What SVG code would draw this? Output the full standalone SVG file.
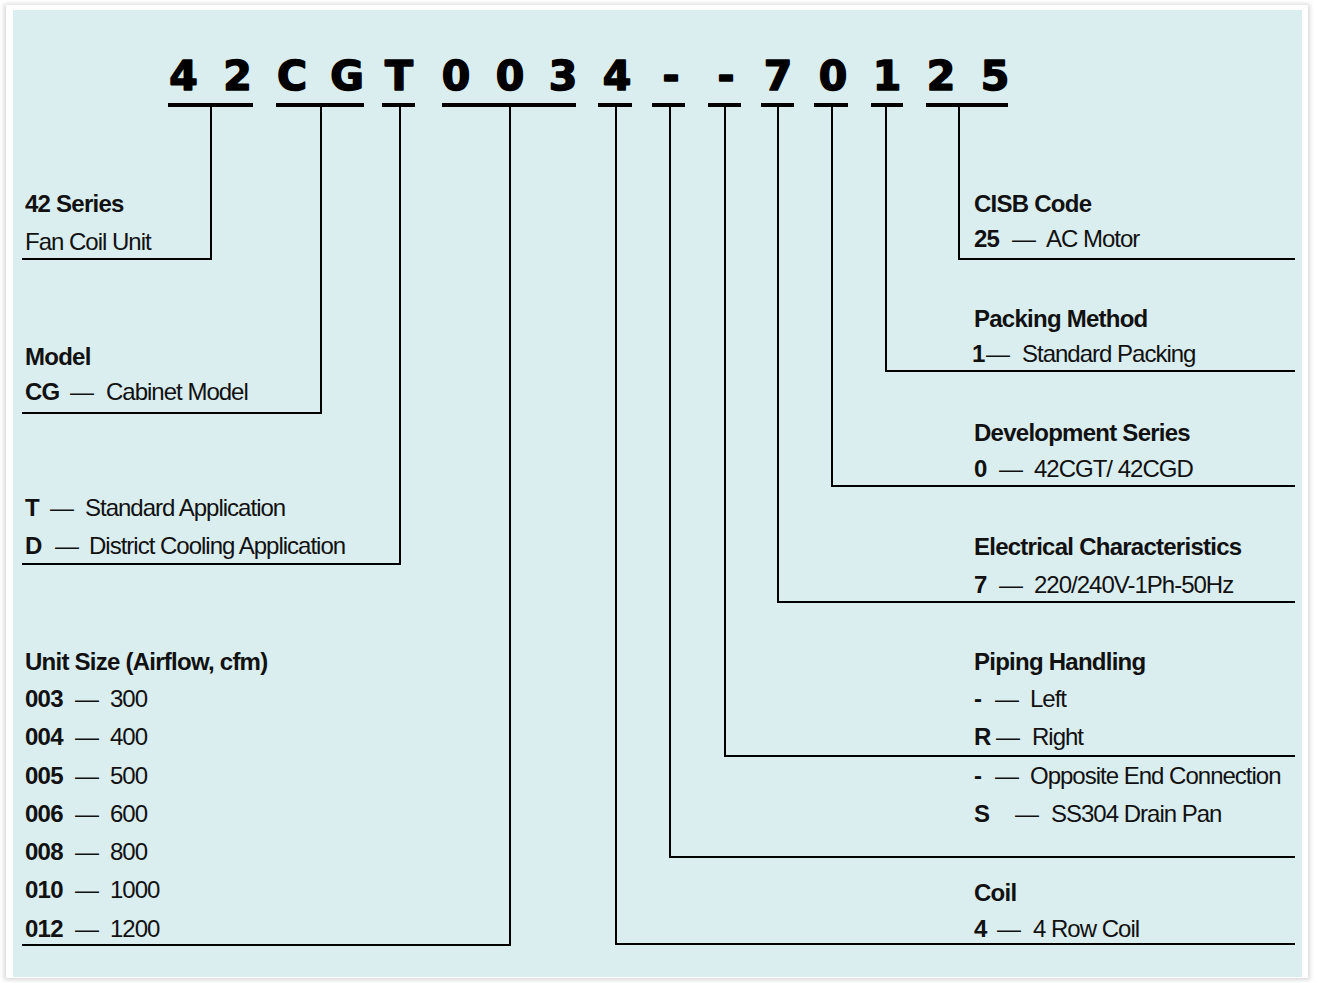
<svg xmlns="http://www.w3.org/2000/svg" width="1317" height="983" viewBox="0 0 1317 983">
<defs>
<filter id="sh" x="-2%" y="-2%" width="104%" height="104%"><feGaussianBlur stdDeviation="2"/></filter>
</defs>
<style>
.code{font-family:"DejaVu Sans",sans-serif;font-weight:bold;font-size:41px;fill:#000;stroke:#000;stroke-width:1.6;stroke-linejoin:round;text-anchor:middle}
.b{font-family:"Liberation Sans",Arial,sans-serif;font-weight:bold;font-size:24px;fill:#111;letter-spacing:-0.75px}
.r{font-family:"Liberation Sans",Arial,sans-serif;font-size:24px;fill:#111;letter-spacing:-1px}
.ul{stroke:#000;stroke-width:4;fill:none}
.cn{stroke:#000;stroke-width:2;fill:none}
</style>
<rect x="0" y="0" width="1317" height="983" fill="#ffffff"/>
<rect x="4" y="4" width="1306" height="976" fill="#d8d8d8" filter="url(#sh)"/>
<rect x="6" y="5" width="1302" height="973" fill="#ffffff"/>
<rect x="13" y="10" width="1289" height="967" fill="#daedef"/>

<g id="code">
<text class="code" x="183.5" y="90">4</text>
<text class="code" x="237.5" y="90">2</text>
<text class="code" x="292" y="90">C</text>
<text class="code" x="347" y="90">G</text>
<text class="code" x="399" y="90">T</text>
<text class="code" x="456" y="90">0</text>
<text class="code" x="510" y="90">0</text>
<text class="code" x="563" y="90">3</text>
<text class="code" x="617" y="90">4</text>
<text class="code" x="671" y="90">-</text>
<text class="code" x="726" y="90">-</text>
<text class="code" x="778" y="90">7</text>
<text class="code" x="833" y="90">0</text>
<text class="code" x="887" y="90">1</text>
<text class="code" x="941" y="90">2</text>
<text class="code" x="995" y="90">5</text>
<g class="ul">
<line x1="168" y1="105" x2="253" y2="105"/>
<line x1="276" y1="105" x2="364" y2="105"/>
<line x1="382" y1="105" x2="415" y2="105"/>
<line x1="442" y1="105" x2="576" y2="105"/>
<line x1="598" y1="105" x2="632" y2="105"/>
<line x1="652" y1="105" x2="685" y2="105"/>
<line x1="708" y1="105" x2="741" y2="105"/>
<line x1="761" y1="105" x2="794" y2="105"/>
<line x1="814" y1="105" x2="848" y2="105"/>
<line x1="871" y1="105" x2="903" y2="105"/>
<line x1="926" y1="105" x2="1008" y2="105"/>
</g>
</g>

<g id="connectors" class="cn">
<polyline points="211,107 211,259 22,259"/>
<polyline points="321,107 321,413 22,413"/>
<polyline points="400,107 400,564 22,564"/>
<polyline points="510,107 510,945 22,945"/>
<polyline points="959,107 959,259 1295,259"/>
<polyline points="886,107 886,371 1295,371"/>
<polyline points="832,107 832,486 1295,486"/>
<polyline points="778,107 778,602 1295,602"/>
<polyline points="725,107 725,756 1295,756"/>
<polyline points="670,107 670,857 1295,857"/>
<polyline points="616,107 616,944 1295,944"/>
</g>

<g id="series">
<text class="b" x="25" y="212">42 Series</text>
<text class="r" x="25" y="250">Fan Coil Unit</text>
</g>
<g id="model">
<text class="b" x="25" y="365">Model</text>
<text class="b" x="25" y="400">CG</text><text class="r" x="70" y="400">—</text><text class="r" x="106" y="400">Cabinet Model</text>
</g>
<g id="application">
<text class="b" x="25" y="516">T</text><text class="r" x="50" y="516">—</text><text class="r" x="85" y="516">Standard Application</text>
<text class="b" x="25" y="554">D</text><text class="r" x="55" y="554">—</text><text class="r" x="89" y="554">District Cooling Application</text>
</g>
<g id="unitsize">
<text class="b" x="25" y="670">Unit Size (Airflow, cfm)</text>
<text class="b" x="25" y="707">003</text><text class="r" x="75" y="707">—</text><text class="r" x="110" y="707">300</text>
<text class="b" x="25" y="745">004</text><text class="r" x="75" y="745">—</text><text class="r" x="110" y="745">400</text>
<text class="b" x="25" y="784">005</text><text class="r" x="75" y="784">—</text><text class="r" x="110" y="784">500</text>
<text class="b" x="25" y="822">006</text><text class="r" x="75" y="822">—</text><text class="r" x="110" y="822">600</text>
<text class="b" x="25" y="860">008</text><text class="r" x="75" y="860">—</text><text class="r" x="110" y="860">800</text>
<text class="b" x="25" y="898">010</text><text class="r" x="75" y="898">—</text><text class="r" x="110" y="898">1000</text>
<text class="b" x="25" y="937">012</text><text class="r" x="75" y="937">—</text><text class="r" x="110" y="937">1200</text>
</g>

<g id="cisb">
<text class="b" x="974" y="212">CISB Code</text>
<text class="b" x="974" y="247">25</text><text class="r" x="1012" y="247">—</text><text class="r" x="1046" y="247">AC Motor</text>
</g>
<g id="packing">
<text class="b" x="974" y="327">Packing Method</text>
<text class="b" x="972" y="362">1</text><text class="r" x="986" y="362">—</text><text class="r" x="1022" y="362">Standard Packing</text>
</g>
<g id="development">
<text class="b" x="974" y="441">Development Series</text>
<text class="b" x="974" y="477">0</text><text class="r" x="999" y="477">—</text><text class="r" x="1034" y="477">42CGT/ 42CGD</text>
</g>
<g id="electrical">
<text class="b" x="974" y="555">Electrical Characteristics</text>
<text class="b" x="974" y="593">7</text><text class="r" x="999" y="593">—</text><text class="r" x="1034" y="593">220/240V-1Ph-50Hz</text>
</g>
<g id="piping">
<text class="b" x="974" y="670">Piping Handling</text>
<text class="b" x="974" y="707">-</text><text class="r" x="995" y="707">—</text><text class="r" x="1030" y="707">Left</text>
<text class="b" x="974" y="745">R</text><text class="r" x="996" y="745">—</text><text class="r" x="1032" y="745">Right</text>
</g>
<g id="drainpan">
<text class="b" x="974" y="784">-</text><text class="r" x="995" y="784">—</text><text class="r" x="1030" y="784">Opposite End Connection</text>
<text class="b" x="974" y="822">S</text><text class="r" x="1015" y="822">—</text><text class="r" x="1051" y="822">SS304 Drain Pan</text>
</g>
<g id="coil">
<text class="b" x="974" y="901">Coil</text>
<text class="b" x="974" y="937">4</text><text class="r" x="997" y="937">—</text><text class="r" x="1033" y="937">4 Row Coil</text>
</g>
</svg>
